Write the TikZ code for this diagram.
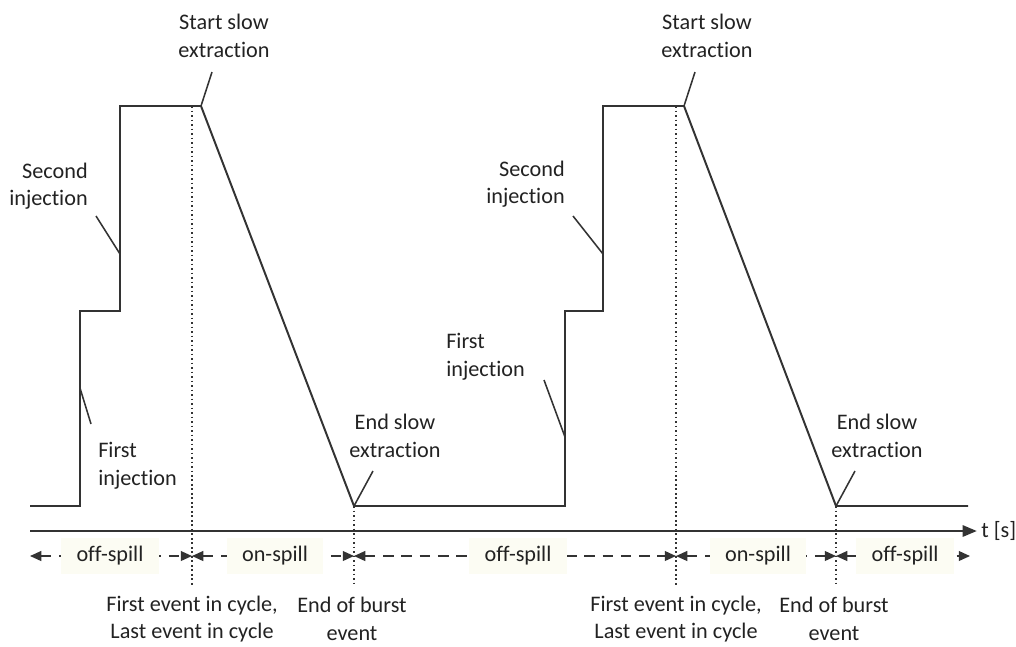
\documentclass[tikz,border=0pt]{standalone}
\usepackage{fontspec}
\setmainfont{Carlito}[Ligatures=NoCommon]
\usepackage{xcolor}
\definecolor{cycleLine}{HTML}{333333}
\definecolor{cycleText}{HTML}{222222}
\definecolor{spillFill}{HTML}{FCFCF3}
\usetikzlibrary{arrows.meta}

\begin{document}
\begin{tikzpicture}[x=0.025cm, y=-0.025cm,
  trace/.style={cycleLine, line width=1.4pt},
  leader/.style={cycleLine, line width=1.1pt},
  marker/.style={cycleLine, line width=1.2pt, dotted},
  tag/.style={text=cycleText, inner sep=0pt, font=\fontsize{15.8}{19.6}\selectfont},
  spill/.style={cycleLine, line width=1.1pt, dash pattern=on 7.5pt off 5.5pt, {Triangle[length=8pt,width=7pt]}-{Triangle[length=8pt,width=7pt]}},
  spilltag/.style={tag, fill=spillFill, inner xsep=11pt, inner ysep=6pt}]
  \useasboundingbox (0,0) rectangle (1016,646);

  \coordinate (rest0) at (30,506);
  \coordinate (stepA) at (80,311);
  \coordinate (topA) at (120,106);
  \coordinate (startA) at (201,106);
  \coordinate (endA) at (354,506);
  \coordinate (stepB) at (565,311);
  \coordinate (topB) at (603,106);
  \coordinate (startB) at (684,106);
  \coordinate (endB) at (836,506);
  \coordinate (rest1) at (968,506);
  \draw[trace] (rest0) -| (stepA) -| (topA) -- (startA) -- (endA) -| (stepB) -| (topB) -- (startB) -- (endB) -- (rest1);

  \coordinate (evtA) at (192,106);
  \coordinate (evtAlow) at (192,585);
  \coordinate (burstAlow) at (354,585);
  \coordinate (evtB) at (676,106);
  \coordinate (evtBlow) at (676,585);
  \coordinate (burstBlow) at (836,585);
  \draw[marker] (evtA) -- (evtAlow);
  \draw[marker] (endA) -- (burstAlow);
  \draw[marker] (evtB) -- (evtBlow);
  \draw[marker] (endB) -- (burstBlow);

  \coordinate (axisL) at (30,531);
  \node[tag, anchor=west] (time) at (981,531) {t [s]};
  \draw[cycleLine, line width=1.4pt, -{Triangle[length=10pt,width=8pt]}, shorten >=3pt] (axisL) -- (time.west);

  \node[tag, align=center] (sseA) at (224,36) {Start slow\\extraction};
  \node[tag, align=right, anchor=east] (siA) at (88,186) {Second\\injection};
  \node[tag, align=left, anchor=west] (fiA) at (98,466) {First\\injection};
  \node[tag, align=center] (eseA) at (395,436) {End slow\\extraction};
  \node[tag, align=right, anchor=east] (siB) at (565,184) {Second\\injection};
  \node[tag, align=left, anchor=west] (fiB) at (446,357) {First\\injection};
  \node[tag, align=center] (sseB) at (707,36) {Start slow\\extraction};
  \node[tag, align=center] (eseB) at (877,436) {End slow\\extraction};

  \coordinate (sseAfoot) at (212,72);
  \coordinate (siAhit) at (120,254);
  \coordinate (siAfoot) at (96,216);
  \coordinate (fiAhit) at (80,388);
  \coordinate (fiAfoot) at (91,424);
  \coordinate (eseAfoot) at (373,471);
  \coordinate (fiBhit) at (565,437);
  \coordinate (fiBfoot) at (544,380);
  \coordinate (siBhit) at (603,254);
  \coordinate (siBfoot) at (573,216);
  \coordinate (sseBfoot) at (695,72);
  \coordinate (eseBfoot) at (855,471);
  \draw[leader] (startA) -- (sseAfoot);
  \draw[leader] (siAhit) -- (siAfoot);
  \draw[leader] (fiAhit) -- (fiAfoot);
  \draw[leader] (endA) -- (eseAfoot);
  \draw[leader] (fiBhit) -- (fiBfoot);
  \draw[leader] (siBhit) -- (siBfoot);
  \draw[leader] (startB) -- (sseBfoot);
  \draw[leader] (endB) -- (eseBfoot);

  \coordinate (s0) at (30,556);
  \coordinate (s1) at (192,556);
  \coordinate (s2) at (354,556);
  \coordinate (s3) at (676,556);
  \coordinate (s4) at (836,556);
  \coordinate (s5) at (970,556);
  \draw[spill] (s0) -- (s1);
  \draw[spill] (s1) -- (s2);
  \draw[spill] (s2) -- (s3);
  \draw[spill] (s3) -- (s4);
  \draw[spill] (s4) -- (s5);
  \node[spilltag] (offA) at (110,556) {off-spill};
  \node[spilltag] (onA) at (275,556) {on-spill};
  \node[spilltag] (offB) at (518,556) {off-spill};
  \node[spilltag] (onB) at (758,556) {on-spill};
  \node[spilltag] (offC) at (905,556) {off-spill};

  \node[tag, align=center] (cycleA) at (192,619) {First event in cycle,\\Last event in cycle};
  \node[tag, align=center] (burstA) at (352,619) {End of burst\\event};
  \node[tag, align=center] (cycleB) at (676,619) {First event in cycle,\\Last event in cycle};
  \node[tag, align=center] (burstB) at (834,619) {End of burst\\event};
\end{tikzpicture}
\end{document}
